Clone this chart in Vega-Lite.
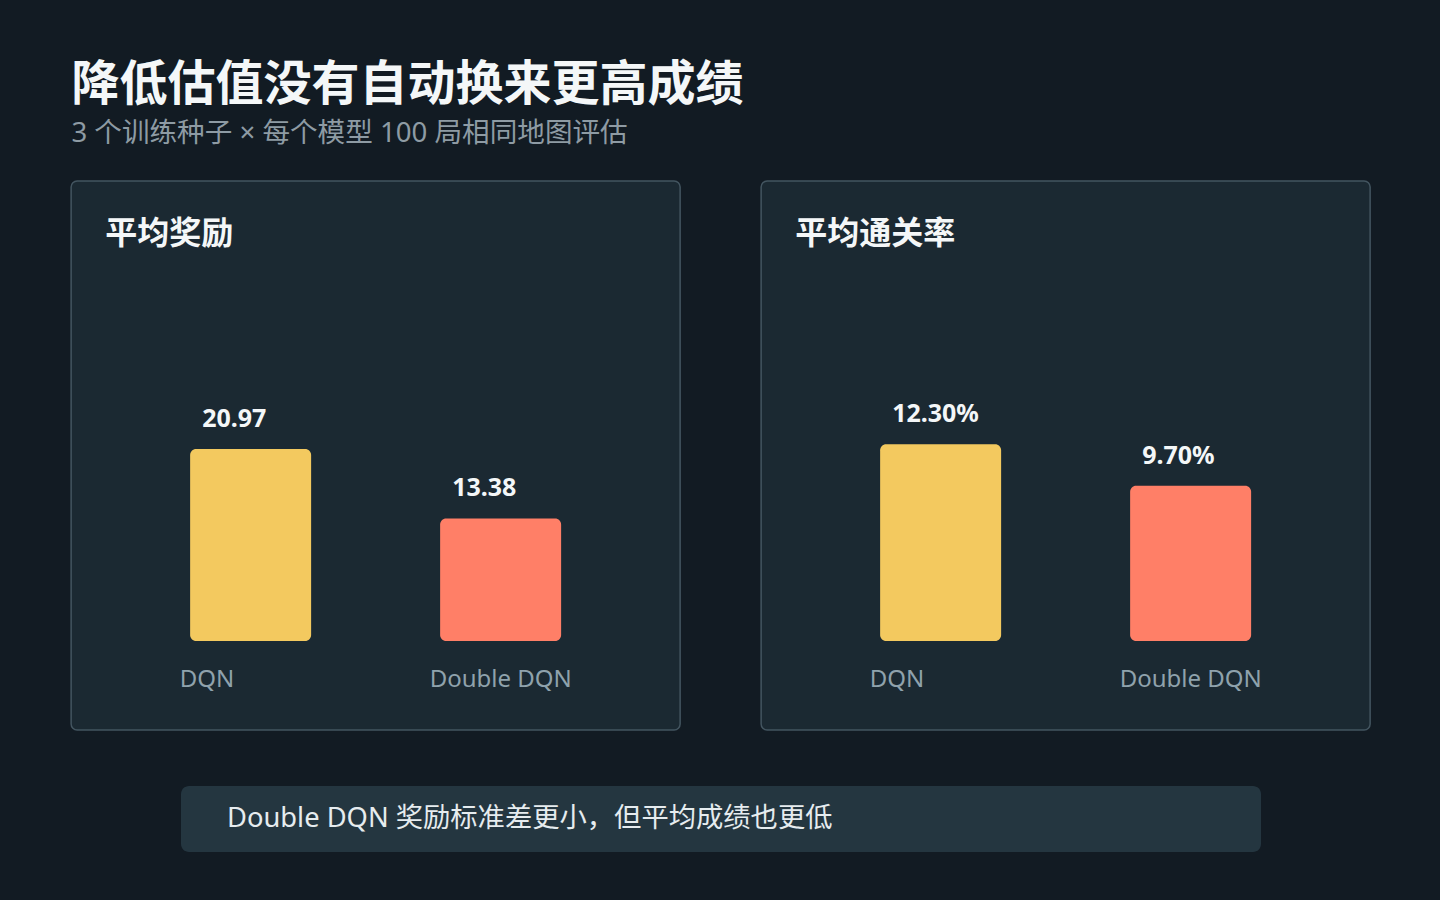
{
  "$schema": "https://vega.github.io/schema/vega-lite/v6.json",
  "background": "#121b23",
  "padding": {"left": 70, "top": 61, "right": 70, "bottom": 49},
  "title": {
    "text": "降低估值没有自动换来更高成绩",
    "subtitle": "3 个训练种子 × 每个模型 100 局相同地图评估",
    "anchor": "start",
    "font": "Noto Sans CJK SC",
    "fontSize": 48,
    "fontWeight": "bold",
    "color": "#f4f7f8",
    "subtitleFont": "Noto Sans, Noto Sans CJK SC",
    "subtitleFontSize": 27.6,
    "subtitleColor": "#8e9ba4",
    "subtitlePadding": 10,
    "offset": 33,
    "dx": 1
  },
  "config": {
    "view": {"stroke": null},
    "font": "Noto Sans CJK SC"
  },
  "datasets": {
    "reward": [
      {"model": "DQN", "value": 20.97, "label": "20.97"},
      {"model": "Double DQN", "value": 13.38, "label": "13.38"}
    ],
    "clear": [
      {"model": "DQN", "value": 12.3, "label": "12.30%"},
      {"model": "Double DQN", "value": 9.7, "label": "9.70%"}
    ],
    "note": [
      {"note": "Double DQN 奖励标准差更小，但平均成绩也更低"}
    ]
  },
  "spacing": 55,
  "center": true,
  "vconcat": [
    {
      "spacing": 79,
      "hconcat": [
        {
          "width": 609,
          "height": 549,
          "data": {"name": "reward"},
          "view": {"fill": "#1b2932", "stroke": "#435560", "strokeWidth": 1.5, "cornerRadius": 6},
          "title": {"text": "平均奖励", "anchor": "start", "frame": "group", "offset": -70, "dx": 34, "font": "Noto Sans CJK SC", "fontSize": 32, "fontWeight": "bold", "color": "#f4f7f8"},
          "encoding": {
            "x": {
              "field": "model", "type": "nominal", "sort": null,
              "scale": {"type": "band", "paddingInner": 0.516, "paddingOuter": 0.476},
              "axis": {"title": null, "orient": "bottom", "offset": -51, "domain": false, "ticks": false, "tickSize": 0, "grid": false, "labelPadding": 0, "labelBaseline": "middle", "labelAlign": "left", "labelAngle": 0, "labelOffset": -71, "labelFont": "Noto Sans", "labelFontSize": 24, "labelColor": "#8fa2ac"}
            }
          },
          "layer": [
            {
              "mark": {"type": "bar", "cornerRadius": 6},
              "encoding": {
                "y": {"field": "value", "type": "quantitative", "scale": {"domain": [-9.7, 50.2], "nice": false, "zero": false}, "axis": null},
                "y2": {"datum": 0},
                "color": {"field": "model", "type": "nominal", "sort": null, "scale": {"range": ["#f3c95f", "#ff7f67"]}, "legend": null}
              }
            },
            {
              "mark": {"type": "text", "align": "left", "baseline": "middle", "dx": 12, "dy": -30, "font": "Noto Sans", "fontSize": 25, "fontWeight": "bold", "color": "#f4f7f8"},
              "encoding": {
                "x": {"field": "model", "type": "nominal", "sort": null, "bandPosition": 0},
                "y": {"field": "value", "type": "quantitative"},
                "text": {"field": "label"}
              }
            }
          ]
        },
        {
          "width": 609,
          "height": 549,
          "data": {"name": "clear"},
          "view": {"fill": "#1b2932", "stroke": "#435560", "strokeWidth": 1.5, "cornerRadius": 6},
          "title": {"text": "平均通关率", "anchor": "start", "frame": "group", "offset": -70, "dx": 34, "font": "Noto Sans CJK SC", "fontSize": 32, "fontWeight": "bold", "color": "#f4f7f8"},
          "encoding": {
            "x": {
              "field": "model", "type": "nominal", "sort": null,
              "scale": {"type": "band", "paddingInner": 0.516, "paddingOuter": 0.476},
              "axis": {"title": null, "orient": "bottom", "offset": -51, "domain": false, "ticks": false, "tickSize": 0, "grid": false, "labelPadding": 0, "labelBaseline": "middle", "labelAlign": "left", "labelAngle": 0, "labelOffset": -71, "labelFont": "Noto Sans", "labelFontSize": 24, "labelColor": "#8fa2ac"}
            }
          },
          "layer": [
            {
              "mark": {"type": "bar", "cornerRadius": 6},
              "encoding": {
                "y": {"field": "value", "type": "quantitative", "scale": {"domain": [-5.5625, 28.75], "nice": false, "zero": false}, "axis": null},
                "y2": {"datum": 0},
                "color": {"field": "model", "type": "nominal", "sort": null, "scale": {"range": ["#f3c95f", "#ff7f67"]}, "legend": null}
              }
            },
            {
              "mark": {"type": "text", "align": "left", "baseline": "middle", "dx": 12, "dy": -30, "font": "Noto Sans", "fontSize": 25, "fontWeight": "bold", "color": "#f4f7f8"},
              "encoding": {
                "x": {"field": "model", "type": "nominal", "sort": null, "bandPosition": 0},
                "y": {"field": "value", "type": "quantitative"},
                "text": {"field": "label"}
              }
            }
          ]
        }
      ]
    },
    {
      "width": 1080,
      "height": 66,
      "data": {"name": "note"},
      "view": {"fill": "#243640", "stroke": null, "cornerRadius": 8},
      "mark": {"type": "text", "align": "left", "baseline": "middle", "font": "Noto Sans, Noto Sans CJK SC", "fontSize": 27.3, "color": "#e6ecef"},
      "encoding": {
        "x": {"field": "note", "type": "nominal", "bandPosition": 0, "scale": {"type": "band", "paddingInner": 0, "paddingOuter": 0.04656}, "axis": null},
        "text": {"field": "note"}
      }
    }
  ]
}
